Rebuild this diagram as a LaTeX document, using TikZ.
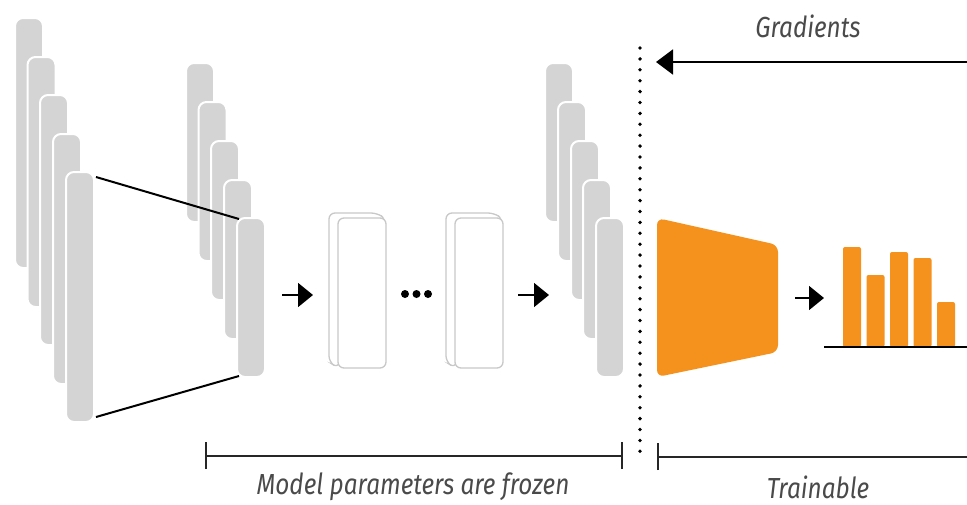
\documentclass[tikz,border=0pt]{standalone}
\usepackage{fontspec}
\setmainfont{Fira Sans}[FakeStretch=0.84]
\usetikzlibrary{arrows.meta,calc}
\definecolor{barfill}{HTML}{D4D4D4}
\definecolor{boxline}{HTML}{C8C8C8}
\definecolor{orng}{HTML}{F5921E}
\definecolor{txtgray}{HTML}{4A4A4A}
\tikzset{
  gbar/.style={draw=white, line width=2pt, fill=barfill, rounded corners=8pt,
    minimum width=28pt, anchor=north west, inner sep=0pt, outer sep=0pt},
  tallbar/.style={gbar, minimum height=250pt},
  shortbar/.style={gbar, minimum height=159pt},
  wbox/.style={draw=boxline, line width=1.3pt, fill=white, rounded corners=6pt,
    minimum width=48pt, minimum height=150pt, anchor=north west, inner sep=0pt, outer sep=0pt},
  wback/.style={draw=boxline, line width=1.3pt, fill=white, rounded corners=6pt},
  obar/.style={fill=orng, rounded corners=2pt, minimum width=18pt, anchor=south west,
    inner sep=0pt, outer sep=0pt},
  conn/.style={line width=2pt, black},
  flow/.style={line width=1.6pt, black, -{Triangle[length=15pt,width=24pt]}},
  brk/.style={line width=1.6pt, black!85},
  lbl/.style={text=txtgray, font=\fontsize{29}{31}\selectfont\itshape, inner sep=0pt},
}
\begin{document}
\begin{tikzpicture}[x=1pt,y=-1pt]
\useasboundingbox (0,0) rectangle (967,504);
% left stack
\node[tallbar] (L1) at (15,18) {};
\node[tallbar] (L2) at (27.5,57) {};
\node[tallbar] (L3) at (40,95) {};
\node[tallbar] (L4) at (53,134) {};
\node[tallbar] (L5) at (66,172) {};
% second stack
\node[shortbar] (M1) at (186,63) {};
\node[shortbar] (M2) at (198.5,102) {};
\node[shortbar] (M3) at (211,141) {};
\node[shortbar] (M4) at (224,180) {};
\node[shortbar] (M5) at (237,218) {};
% connecting lines
\draw[conn] ([xshift=2pt,yshift=-5pt]L5.north east) -- ([xshift=2pt,yshift=-1pt]M5.north west);
\draw[conn] ([xshift=2pt,yshift=5pt]L5.south east) -- ([xshift=2pt,yshift=1pt]M5.south west);
% arrow 1
\coordinate (a1s) at (282,295);
\coordinate (a1e) at (313,295);
\draw[flow] (a1s) -- (a1e);
% 3D boxes
\draw[wback] (338,368) -- (329,362) -- (329,213) -- (377,213) -- (386,219) -- cycle;
\node[wbox] (B1) at (338,218) {};
\draw[wback] (455,368) -- (446,362) -- (446,213) -- (494,213) -- (503,219) -- cycle;
\node[wbox] (B2) at (455,218) {};
% dots
\foreach \dx/\nm in {405/d1,416.5/d2,428/d3}
  \fill (\dx,294) circle (4pt) coordinate (\nm);
% arrow 2
\coordinate (a2s) at (518,295);
\coordinate (a2e) at (549,295);
\draw[flow] (a2s) -- (a2e);
% third stack
\node[shortbar] (R1) at (545,63) {};
\node[shortbar] (R2) at (558,102) {};
\node[shortbar] (R3) at (571,141) {};
\node[shortbar] (R4) at (583,180) {};
\node[shortbar] (R5) at (596,218) {};
% dotted separator
\coordinate (sepT) at (640,48);
\coordinate (sepB) at (640,458);
\draw[line width=3.8pt, line cap=round, dash pattern=on 0pt off 10.9pt] (sepT) -- (sepB);
% gradients arrow
\coordinate (gS) at (968,62);
\coordinate (gE) at (656,62);
\draw[line width=1.8pt, -{Triangle[length=17pt,width=25pt]}] (gS) -- (gE);
\node[lbl] (grad) at (808,26) {Gradients};
% orange head
\fill[orng, rounded corners=7pt] (657,218) -- (778,245) -- (778,352) -- (657,377) -- cycle;
\coordinate (head) at (778,298);
% arrow 3
\coordinate (a3e) at (824,298);
\draw[flow] ([xshift=17pt]head) -- (a3e);
% bars
\node[obar, minimum height=100pt] (o1) at (843,347) {};
\node[obar, minimum height=72pt] (o2) at (866.5,347) {};
\node[obar, minimum height=95pt] (o3) at (890,347) {};
\node[obar, minimum height=89pt] (o4) at (913.5,347) {};
\node[obar, minimum height=45pt] (o5) at (937,347) {};
\coordinate (baseL) at (824,347);
\coordinate (baseR) at (968,347);
\draw[line width=1.6pt] (baseL) -- (baseR);
% bottom brackets
\coordinate (fL) at (206,456);
\coordinate (fR) at (622,456);
\draw[brk] (fL) -- (fR);
\draw[brk] ([yshift=-13pt]fL) -- ([yshift=14pt]fL);
\draw[brk] ([yshift=-13pt]fR) -- ([yshift=14pt]fR);
\node[lbl] (frozen) at (413,487) {Model parameters are frozen};
\coordinate (tL) at (658,457);
\coordinate (tR) at (968,457);
\draw[brk] (tL) -- (tR);
\draw[brk] ([yshift=-13pt]tL) -- ([yshift=14pt]tL);
\node[lbl] (train) at (818,487) {Trainable};
\end{tikzpicture}
\end{document}
